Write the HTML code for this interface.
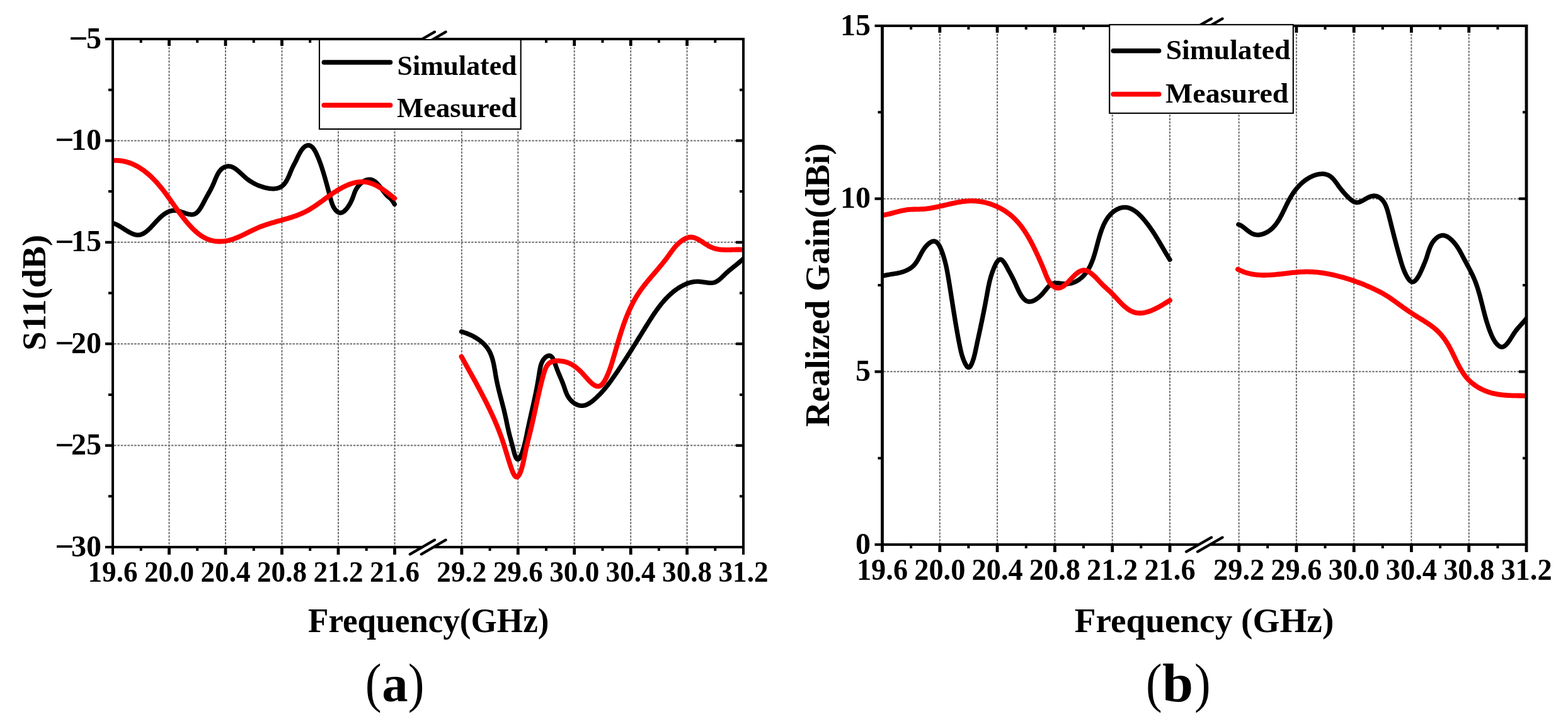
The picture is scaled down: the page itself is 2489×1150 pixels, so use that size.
<!DOCTYPE html><html><head><meta charset="utf-8"><style>html,body{margin:0;padding:0;background:#fff;width:2489px;height:1150px;overflow:hidden}svg{display:block}text{font-family:"Liberation Serif","Times New Roman",serif;fill:#000}</style></head><body>
<svg width="2489" height="1150" viewBox="0 0 2489 1150">
<rect width="2489" height="1150" fill="#fff"/>
<line x1="268.5" y1="64.0" x2="268.5" y2="867.0" stroke="#6e6e6e" stroke-width="2.0" stroke-dasharray="3.5 1.85"/>
<line x1="358.0" y1="64.0" x2="358.0" y2="867.0" stroke="#6e6e6e" stroke-width="2.0" stroke-dasharray="3.5 1.85"/>
<line x1="447.5" y1="64.0" x2="447.5" y2="867.0" stroke="#6e6e6e" stroke-width="2.0" stroke-dasharray="3.5 1.85"/>
<line x1="537.0" y1="64.0" x2="537.0" y2="867.0" stroke="#6e6e6e" stroke-width="2.0" stroke-dasharray="3.5 1.85"/>
<line x1="626.5" y1="64.0" x2="626.5" y2="867.0" stroke="#6e6e6e" stroke-width="2.0" stroke-dasharray="3.5 1.85"/>
<line x1="732.9" y1="64.0" x2="732.9" y2="867.0" stroke="#6e6e6e" stroke-width="2.0" stroke-dasharray="3.5 1.85"/>
<line x1="822.3" y1="64.0" x2="822.3" y2="867.0" stroke="#6e6e6e" stroke-width="2.0" stroke-dasharray="3.5 1.85"/>
<line x1="911.7" y1="64.0" x2="911.7" y2="867.0" stroke="#6e6e6e" stroke-width="2.0" stroke-dasharray="3.5 1.85"/>
<line x1="1001.2" y1="64.0" x2="1001.2" y2="867.0" stroke="#6e6e6e" stroke-width="2.0" stroke-dasharray="3.5 1.85"/>
<line x1="1090.6" y1="64.0" x2="1090.6" y2="867.0" stroke="#6e6e6e" stroke-width="2.0" stroke-dasharray="3.5 1.85"/>
<line x1="181.0" y1="223.4" x2="1178.0" y2="223.4" stroke="#6e6e6e" stroke-width="2" stroke-dasharray="3.5 1.85"/>
<line x1="181.0" y1="384.8" x2="1178.0" y2="384.8" stroke="#6e6e6e" stroke-width="2" stroke-dasharray="3.5 1.85"/>
<line x1="181.0" y1="546.2" x2="1178.0" y2="546.2" stroke="#6e6e6e" stroke-width="2" stroke-dasharray="3.5 1.85"/>
<line x1="181.0" y1="707.6" x2="1178.0" y2="707.6" stroke="#6e6e6e" stroke-width="2" stroke-dasharray="3.5 1.85"/>
<clipPath id="clip179"><rect x="179.0" y="0" width="1001.0" height="1150"/></clipPath>
<g clip-path="url(#clip179)">
<path d="M179.01,354.50 L180.63,354.93 L182.29,355.51 L183.98,356.23 L185.71,357.06 L187.47,357.99 L189.26,359.02 L191.08,360.10 L192.91,361.24 L194.76,362.42 L196.62,363.61 L198.50,364.81 L200.39,365.99 L202.28,367.14 L204.17,368.24 L206.05,369.27 L207.94,370.22 L209.81,371.07 L211.68,371.81 L213.52,372.42 L215.35,372.87 L217.16,373.16 L218.94,373.27 L220.70,373.18 L222.43,372.89 L224.13,372.42 L225.81,371.78 L227.46,370.97 L229.09,370.03 L230.70,368.95 L232.30,367.75 L233.88,366.45 L235.44,365.06 L236.99,363.59 L238.53,362.05 L240.07,360.46 L241.59,358.84 L243.11,357.18 L244.63,355.52 L246.14,353.85 L247.66,352.20 L249.17,350.57 L250.69,348.99 L252.21,347.45 L253.74,345.96 L255.28,344.53 L256.83,343.16 L258.40,341.87 L259.98,340.65 L261.57,339.53 L263.19,338.49 L264.83,337.55 L266.48,336.72 L268.17,335.99 L269.88,335.39 L271.62,334.91 L273.39,334.56 L275.19,334.35 L277.02,334.29 L278.90,334.37 L280.81,334.62 L282.76,335.02 L284.74,335.54 L286.74,336.16 L288.76,336.84 L290.78,337.55 L292.81,338.26 L294.83,338.94 L296.83,339.56 L298.81,340.09 L300.76,340.49 L302.68,340.73 L304.54,340.79 L306.36,340.62 L308.11,340.21 L309.79,339.51 L311.41,338.52 L312.94,337.25 L314.42,335.75 L315.83,334.06 L317.17,332.20 L318.47,330.22 L319.71,328.15 L320.91,326.03 L322.06,323.90 L323.17,321.79 L324.25,319.74 L325.30,317.77 L326.31,315.89 L327.30,314.08 L328.26,312.33 L329.20,310.64 L330.12,308.99 L331.01,307.38 L331.89,305.79 L332.75,304.21 L333.60,302.64 L334.43,301.07 L335.25,299.48 L336.06,297.87 L336.86,296.22 L337.66,294.54 L338.45,292.80 L339.24,291.00 L340.03,289.13 L340.83,287.19 L341.64,285.20 L342.48,283.19 L343.35,281.17 L344.28,279.16 L345.27,277.19 L346.32,275.28 L347.46,273.45 L348.69,271.72 L350.03,270.12 L351.48,268.66 L353.06,267.37 L354.75,266.26 L356.53,265.36 L358.36,264.67 L360.21,264.21 L362.04,264.01 L363.85,264.05 L365.64,264.32 L367.39,264.81 L369.13,265.48 L370.84,266.33 L372.53,267.33 L374.21,268.46 L375.87,269.71 L377.51,271.05 L379.15,272.46 L380.78,273.92 L382.40,275.42 L384.01,276.94 L385.62,278.44 L387.23,279.93 L388.84,281.37 L390.45,282.74 L392.07,284.05 L393.70,285.30 L395.33,286.49 L396.98,287.61 L398.64,288.68 L400.32,289.70 L402.01,290.66 L403.73,291.58 L405.47,292.44 L407.23,293.27 L409.02,294.05 L410.84,294.78 L412.69,295.49 L414.57,296.15 L416.49,296.78 L418.45,297.38 L420.43,297.93 L422.43,298.43 L424.45,298.87 L426.47,299.23 L428.49,299.52 L430.50,299.72 L432.50,299.82 L434.48,299.82 L436.43,299.70 L438.34,299.46 L440.20,299.09 L442.02,298.57 L443.77,297.90 L445.47,297.08 L447.09,296.08 L448.63,294.91 L450.08,293.56 L451.45,292.03 L452.73,290.34 L453.95,288.53 L455.09,286.61 L456.17,284.61 L457.19,282.56 L458.16,280.46 L459.09,278.36 L459.97,276.27 L460.82,274.22 L461.64,272.23 L462.44,270.32 L463.22,268.51 L463.99,266.83 L464.76,265.23 L465.52,263.69 L466.29,262.18 L467.07,260.68 L467.87,259.14 L468.69,257.54 L469.53,255.85 L470.41,254.04 L471.32,252.11 L472.28,250.09 L473.28,248.01 L474.32,245.92 L475.42,243.83 L476.56,241.78 L477.76,239.82 L479.02,237.96 L480.34,236.24 L481.72,234.70 L483.17,233.36 L484.69,232.27 L486.28,231.45 L487.93,230.94 L489.61,230.77 L491.24,230.98 L492.79,231.56 L494.27,232.48 L495.66,233.69 L496.99,235.16 L498.24,236.84 L499.42,238.69 L500.54,240.66 L501.59,242.71 L502.59,244.80 L503.53,246.89 L504.41,248.94 L505.25,250.94 L506.04,252.90 L506.79,254.82 L507.51,256.71 L508.20,258.59 L508.86,260.44 L509.50,262.29 L510.13,264.13 L510.74,265.96 L511.34,267.80 L511.93,269.64 L512.51,271.48 L513.09,273.32 L513.65,275.16 L514.21,277.01 L514.75,278.86 L515.30,280.72 L515.83,282.58 L516.36,284.45 L516.89,286.32 L517.42,288.21 L517.94,290.10 L518.46,292.00 L518.98,293.91 L519.50,295.84 L520.02,297.77 L520.54,299.72 L521.06,301.68 L521.59,303.65 L522.11,305.64 L522.65,307.65 L523.19,309.67 L523.73,311.71 L524.28,313.77 L524.84,315.84 L525.41,317.93 L526.01,320.03 L526.66,322.11 L527.37,324.17 L528.17,326.19 L529.08,328.16 L530.11,330.06 L531.28,331.87 L532.56,333.54 L533.95,335.03 L535.41,336.28 L536.94,337.23 L538.50,337.84 L540.08,338.07 L541.66,337.91 L543.25,337.39 L544.83,336.57 L546.38,335.45 L547.92,334.09 L549.41,332.51 L550.87,330.75 L552.27,328.83 L553.62,326.79 L554.90,324.68 L556.10,322.50 L557.22,320.32 L558.24,318.14 L559.17,316.02 L559.99,313.97 L560.71,312.01 L561.36,310.14 L561.99,308.32 L562.62,306.55 L563.29,304.82 L564.04,303.11 L564.88,301.40 L565.85,299.69 L566.94,298.00 L568.14,296.35 L569.43,294.74 L570.82,293.20 L572.29,291.74 L573.82,290.39 L575.43,289.15 L577.08,288.04 L578.78,287.09 L580.52,286.30 L582.28,285.70 L584.06,285.29 L585.85,285.11 L587.64,285.16 L589.41,285.46 L591.17,286.03 L592.90,286.87 L594.60,287.96 L596.27,289.25 L597.91,290.73 L599.52,292.36 L601.10,294.10 L602.64,295.93 L604.15,297.82 L605.63,299.73 L607.06,301.63 L608.46,303.50 L609.81,305.30 L611.13,307.00 L612.40,308.56 L613.63,309.97 L614.82,311.18 L615.96,312.19 L617.09,313.09 L618.22,313.98 L619.37,314.95 L620.57,316.11 L621.84,317.54 L623.21,319.35 L624.68,321.63 L626.30,324.49" fill="none" stroke="#000" stroke-width="7.3" stroke-linecap="round" stroke-linejoin="round"/>
<path d="M178.98,255.04 L181.11,254.92 L183.22,254.88 L185.31,254.90 L187.39,254.99 L189.44,255.14 L191.47,255.36 L193.48,255.64 L195.48,255.98 L197.45,256.38 L199.40,256.84 L201.34,257.35 L203.25,257.92 L205.14,258.54 L207.02,259.21 L208.87,259.93 L210.70,260.70 L212.51,261.51 L214.31,262.37 L216.08,263.28 L217.83,264.22 L219.56,265.21 L221.27,266.23 L222.96,267.29 L224.62,268.39 L226.27,269.52 L227.90,270.68 L229.50,271.87 L231.09,273.10 L232.65,274.35 L234.19,275.62 L235.71,276.93 L237.21,278.25 L238.69,279.60 L240.14,280.96 L241.58,282.34 L242.99,283.74 L244.38,285.16 L245.76,286.59 L247.11,288.04 L248.45,289.50 L249.77,290.98 L251.07,292.47 L252.36,293.98 L253.63,295.49 L254.89,297.02 L256.14,298.56 L257.37,300.11 L258.60,301.67 L259.81,303.24 L261.02,304.83 L262.22,306.41 L263.41,308.01 L264.59,309.62 L265.77,311.23 L266.95,312.85 L268.12,314.48 L269.29,316.11 L270.45,317.75 L271.62,319.39 L272.79,321.03 L273.95,322.68 L275.12,324.34 L276.29,325.99 L277.47,327.65 L278.65,329.30 L279.83,330.96 L281.02,332.62 L282.22,334.28 L283.42,335.94 L284.64,337.60 L285.86,339.25 L287.10,340.91 L288.34,342.56 L289.60,344.20 L290.88,345.85 L292.16,347.48 L293.46,349.12 L294.78,350.75 L296.12,352.37 L297.47,353.98 L298.84,355.57 L300.22,357.15 L301.63,358.71 L303.05,360.25 L304.49,361.77 L305.95,363.25 L307.44,364.71 L308.94,366.13 L310.46,367.51 L312.00,368.86 L313.56,370.16 L315.15,371.42 L316.76,372.63 L318.39,373.79 L320.04,374.90 L321.71,375.95 L323.41,376.94 L325.13,377.87 L326.88,378.73 L328.65,379.52 L330.45,380.24 L332.27,380.89 L334.12,381.47 L335.98,381.97 L337.87,382.40 L339.77,382.75 L341.69,383.04 L343.62,383.26 L345.56,383.41 L347.50,383.49 L349.45,383.50 L351.41,383.45 L353.36,383.34 L355.31,383.16 L357.26,382.91 L359.19,382.61 L361.12,382.24 L363.04,381.81 L364.95,381.33 L366.85,380.80 L368.74,380.22 L370.63,379.59 L372.50,378.92 L374.37,378.21 L376.24,377.46 L378.10,376.69 L379.95,375.88 L381.80,375.05 L383.65,374.19 L385.50,373.32 L387.35,372.43 L389.19,371.53 L391.03,370.62 L392.88,369.70 L394.72,368.78 L396.57,367.87 L398.42,366.95 L400.28,366.05 L402.13,365.16 L404.00,364.28 L405.86,363.42 L407.74,362.57 L409.62,361.76 L411.50,360.97 L413.40,360.21 L415.30,359.48 L417.21,358.77 L419.12,358.08 L421.04,357.41 L422.96,356.76 L424.89,356.14 L426.81,355.52 L428.75,354.93 L430.68,354.34 L432.62,353.77 L434.55,353.21 L436.49,352.65 L438.43,352.11 L440.36,351.56 L442.30,351.03 L444.23,350.49 L446.17,349.96 L448.09,349.42 L450.02,348.88 L451.94,348.34 L453.86,347.79 L455.77,347.24 L457.68,346.67 L459.58,346.10 L461.48,345.51 L463.36,344.91 L465.24,344.30 L467.12,343.67 L468.98,343.02 L470.83,342.35 L472.68,341.66 L474.51,340.94 L476.33,340.20 L478.14,339.44 L479.94,338.65 L481.73,337.82 L483.50,336.97 L485.26,336.09 L487.01,335.17 L488.74,334.22 L490.46,333.24 L492.17,332.23 L493.87,331.19 L495.55,330.13 L497.24,329.05 L498.91,327.94 L500.58,326.82 L502.24,325.68 L503.90,324.52 L505.55,323.35 L507.21,322.17 L508.86,320.98 L510.51,319.79 L512.16,318.58 L513.81,317.37 L515.47,316.16 L517.13,314.95 L518.80,313.74 L520.47,312.54 L522.15,311.34 L523.83,310.15 L525.52,308.96 L527.23,307.79 L528.94,306.63 L530.67,305.48 L532.41,304.36 L534.16,303.25 L535.93,302.16 L537.71,301.09 L539.51,300.05 L541.32,299.03 L543.15,298.05 L544.98,297.09 L546.83,296.18 L548.69,295.30 L550.56,294.47 L552.44,293.68 L554.32,292.94 L556.22,292.25 L558.11,291.61 L560.02,291.03 L561.92,290.51 L563.83,290.05 L565.74,289.65 L567.65,289.32 L569.56,289.06 L571.47,288.88 L573.38,288.77 L575.29,288.74 L577.19,288.80 L579.09,288.93 L580.98,289.16 L582.86,289.48 L584.74,289.88 L586.61,290.37 L588.47,290.94 L590.32,291.58 L592.17,292.30 L594.00,293.08 L595.82,293.93 L597.63,294.83 L599.43,295.79 L601.22,296.80 L603.00,297.86 L604.76,298.95 L606.51,300.09 L608.25,301.25 L609.97,302.45 L611.68,303.67 L613.37,304.91 L615.04,306.17 L616.70,307.44 L618.35,308.71 L619.97,309.99 L621.58,311.27 L623.17,312.54 L624.74,313.80 L626.29,315.05" fill="none" stroke="#f00" stroke-width="7.8" stroke-linecap="round" stroke-linejoin="round"/>
<path d="M732.49,526.72 L734.41,527.30 L736.33,527.92 L738.25,528.58 L740.16,529.27 L742.05,530.01 L743.94,530.78 L745.80,531.59 L747.65,532.44 L749.48,533.33 L751.29,534.26 L753.06,535.23 L754.81,536.23 L756.53,537.28 L758.22,538.37 L759.87,539.50 L761.48,540.67 L763.04,541.89 L764.57,543.14 L766.05,544.44 L767.48,545.78 L768.86,547.16 L770.18,548.58 L771.45,550.05 L772.65,551.56 L773.80,553.11 L774.88,554.71 L775.90,556.35 L776.84,558.04 L777.73,559.76 L778.55,561.53 L779.31,563.33 L780.01,565.17 L780.67,567.03 L781.28,568.93 L781.85,570.85 L782.38,572.79 L782.87,574.76 L783.33,576.74 L783.76,578.74 L784.17,580.76 L784.56,582.78 L784.93,584.81 L785.28,586.85 L785.63,588.89 L785.97,590.93 L786.31,592.97 L786.65,595.00 L786.99,597.02 L787.35,599.04 L787.71,601.04 L788.09,603.03 L788.49,605.00 L788.89,606.97 L789.31,608.92 L789.74,610.87 L790.18,612.80 L790.62,614.73 L791.08,616.65 L791.54,618.57 L792.01,620.48 L792.49,622.39 L792.98,624.29 L793.46,626.19 L793.96,628.10 L794.45,630.00 L794.95,631.90 L795.45,633.80 L795.95,635.71 L796.46,637.62 L796.96,639.54 L797.46,641.46 L797.96,643.39 L798.46,645.32 L798.95,647.27 L799.44,649.22 L799.93,651.18 L800.41,653.16 L800.88,655.15 L801.35,657.15 L801.81,659.16 L802.26,661.19 L802.70,663.23 L803.14,665.28 L803.57,667.33 L804.00,669.37 L804.42,671.40 L804.84,673.43 L805.26,675.43 L805.68,677.41 L806.10,679.37 L806.52,681.29 L806.95,683.18 L807.37,685.03 L807.80,686.84 L808.23,688.60 L808.68,690.35 L809.13,692.08 L809.58,693.82 L810.05,695.58 L810.54,697.37 L811.03,699.20 L811.55,701.10 L812.07,703.07 L812.62,705.13 L813.19,707.29 L813.78,709.56 L814.39,711.97 L815.02,714.49 L815.68,717.05 L816.37,719.57 L817.10,721.98 L817.85,724.19 L818.65,726.14 L819.48,727.73 L820.35,728.90 L821.27,729.56 L822.24,729.64 L823.25,729.12 L824.27,728.08 L825.29,726.63 L826.28,724.86 L827.22,722.87 L828.10,720.73 L828.92,718.49 L829.69,716.18 L830.41,713.85 L831.07,711.54 L831.70,709.28 L832.29,707.07 L832.84,704.91 L833.35,702.80 L833.84,700.73 L834.30,698.70 L834.74,696.70 L835.16,694.73 L835.57,692.79 L835.97,690.87 L836.35,688.96 L836.74,687.07 L837.12,685.18 L837.51,683.29 L837.90,681.41 L838.30,679.53 L838.70,677.65 L839.10,675.77 L839.51,673.88 L839.92,672.00 L840.33,670.12 L840.74,668.24 L841.16,666.36 L841.58,664.47 L842.00,662.59 L842.43,660.70 L842.85,658.81 L843.28,656.92 L843.71,655.02 L844.13,653.12 L844.56,651.22 L844.99,649.32 L845.42,647.41 L845.84,645.50 L846.27,643.58 L846.69,641.66 L847.12,639.73 L847.54,637.80 L847.96,635.86 L848.38,633.92 L848.80,631.97 L849.21,630.01 L849.62,628.05 L850.03,626.08 L850.43,624.10 L850.84,622.12 L851.23,620.12 L851.63,618.12 L852.01,616.11 L852.40,614.10 L852.78,612.07 L853.15,610.03 L853.52,607.99 L853.88,605.93 L854.24,603.87 L854.59,601.79 L854.93,599.71 L855.27,597.61 L855.60,595.50 L855.92,593.38 L856.25,591.26 L856.59,589.13 L856.95,587.02 L857.35,584.93 L857.80,582.87 L858.31,580.85 L858.90,578.88 L859.58,576.97 L860.37,575.12 L861.26,573.35 L862.29,571.66 L863.45,570.07 L864.75,568.59 L866.15,567.30 L867.63,566.22 L869.15,565.42 L870.69,564.96 L872.21,564.87 L873.69,565.22 L875.10,566.05 L876.40,567.42 L877.59,569.27 L878.68,571.49 L879.69,573.93 L880.63,576.47 L881.51,578.99 L882.35,581.36 L883.16,583.57 L883.93,585.65 L884.68,587.61 L885.42,589.48 L886.14,591.28 L886.85,593.03 L887.57,594.75 L888.29,596.46 L889.02,598.18 L889.76,599.91 L890.51,601.66 L891.26,603.44 L892.00,605.24 L892.74,607.06 L893.46,608.92 L894.18,610.81 L894.87,612.73 L895.54,614.69 L896.21,616.68 L896.89,618.68 L897.59,620.68 L898.32,622.66 L899.11,624.63 L899.97,626.56 L900.90,628.44 L901.93,630.27 L903.06,632.02 L904.30,633.69 L905.63,635.27 L907.04,636.76 L908.53,638.14 L910.09,639.41 L911.71,640.55 L913.39,641.56 L915.12,642.44 L916.89,643.16 L918.69,643.73 L920.51,644.13 L922.35,644.36 L924.20,644.41 L926.06,644.27 L927.91,643.92 L929.75,643.38 L931.57,642.67 L933.38,641.79 L935.17,640.78 L936.94,639.64 L938.68,638.41 L940.40,637.09 L942.08,635.72 L943.73,634.30 L945.34,632.86 L946.92,631.41 L948.46,629.95 L949.96,628.47 L951.44,626.99 L952.88,625.49 L954.29,623.99 L955.68,622.47 L957.03,620.95 L958.36,619.42 L959.67,617.88 L960.95,616.33 L962.22,614.77 L963.46,613.20 L964.69,611.63 L965.89,610.05 L967.09,608.46 L968.27,606.87 L969.43,605.28 L970.59,603.67 L971.73,602.07 L972.87,600.46 L974.00,598.84 L975.12,597.22 L976.25,595.60 L977.36,593.97 L978.48,592.34 L979.59,590.71 L980.70,589.08 L981.80,587.44 L982.90,585.80 L984.00,584.15 L985.10,582.51 L986.19,580.86 L987.28,579.20 L988.37,577.55 L989.45,575.89 L990.54,574.23 L991.62,572.56 L992.70,570.89 L993.77,569.22 L994.85,567.55 L995.92,565.88 L996.99,564.20 L998.06,562.52 L999.13,560.84 L1000.20,559.15 L1001.27,557.46 L1002.34,555.77 L1003.40,554.08 L1004.46,552.38 L1005.53,550.68 L1006.59,548.98 L1007.65,547.28 L1008.72,545.58 L1009.78,543.87 L1010.84,542.16 L1011.90,540.45 L1012.96,538.74 L1014.02,537.02 L1015.09,535.30 L1016.15,533.58 L1017.21,531.86 L1018.28,530.14 L1019.34,528.41 L1020.41,526.69 L1021.47,524.96 L1022.54,523.23 L1023.61,521.49 L1024.68,519.76 L1025.75,518.02 L1026.83,516.29 L1027.91,514.55 L1028.99,512.82 L1030.07,511.09 L1031.16,509.36 L1032.26,507.63 L1033.36,505.91 L1034.47,504.20 L1035.59,502.49 L1036.71,500.79 L1037.84,499.10 L1038.98,497.42 L1040.13,495.74 L1041.30,494.08 L1042.47,492.43 L1043.65,490.79 L1044.85,489.17 L1046.06,487.56 L1047.28,485.96 L1048.51,484.38 L1049.76,482.82 L1051.03,481.27 L1052.31,479.74 L1053.61,478.24 L1054.92,476.75 L1056.26,475.28 L1057.61,473.83 L1058.97,472.41 L1060.36,471.01 L1061.77,469.64 L1063.20,468.29 L1064.65,466.96 L1066.12,465.67 L1067.62,464.40 L1069.14,463.16 L1070.68,461.94 L1072.24,460.76 L1073.83,459.61 L1075.45,458.49 L1077.09,457.41 L1078.76,456.36 L1080.45,455.34 L1082.17,454.37 L1083.92,453.44 L1085.68,452.56 L1087.48,451.74 L1089.29,450.97 L1091.13,450.26 L1092.98,449.61 L1094.86,449.03 L1096.76,448.53 L1098.67,448.09 L1100.61,447.74 L1102.56,447.47 L1104.53,447.29 L1106.52,447.20 L1108.52,447.20 L1110.53,447.30 L1112.56,447.50 L1114.60,447.76 L1116.64,448.07 L1118.68,448.40 L1120.71,448.72 L1122.73,449.00 L1124.73,449.23 L1126.71,449.36 L1128.66,449.39 L1130.58,449.27 L1132.46,448.99 L1134.30,448.52 L1136.09,447.83 L1137.83,446.94 L1139.53,445.86 L1141.19,444.63 L1142.82,443.29 L1144.42,441.85 L1146.00,440.36 L1147.55,438.84 L1149.10,437.31 L1150.63,435.82 L1152.16,434.39 L1153.68,433.00 L1155.20,431.65 L1156.71,430.35 L1158.22,429.07 L1159.73,427.83 L1161.24,426.60 L1162.74,425.39 L1164.25,424.19 L1165.75,422.99 L1167.26,421.79 L1168.77,420.59 L1170.28,419.37 L1171.80,418.13 L1173.32,416.87 L1174.84,415.57 L1176.37,414.25 L1177.91,412.88 L1179.45,411.46 L1181.00,409.99" fill="none" stroke="#000" stroke-width="7.3" stroke-linecap="round" stroke-linejoin="round"/>
<path d="M732.52,566.50 L733.47,568.22 L734.42,569.94 L735.38,571.67 L736.34,573.39 L737.30,575.12 L738.26,576.85 L739.22,578.59 L740.19,580.33 L741.15,582.07 L742.12,583.81 L743.09,585.56 L744.06,587.30 L745.03,589.06 L746.01,590.81 L746.98,592.57 L747.95,594.32 L748.92,596.09 L749.89,597.85 L750.87,599.62 L751.84,601.38 L752.81,603.16 L753.77,604.93 L754.74,606.70 L755.71,608.48 L756.67,610.26 L757.63,612.04 L758.59,613.82 L759.55,615.61 L760.50,617.40 L761.46,619.19 L762.41,620.98 L763.35,622.77 L764.29,624.56 L765.23,626.36 L766.17,628.16 L767.10,629.96 L768.03,631.76 L768.95,633.56 L769.87,635.37 L770.78,637.17 L771.69,638.98 L772.59,640.79 L773.49,642.60 L774.38,644.41 L775.26,646.22 L776.14,648.04 L777.02,649.85 L777.88,651.67 L778.75,653.48 L779.60,655.30 L780.45,657.12 L781.28,658.94 L782.12,660.76 L782.94,662.58 L783.76,664.41 L784.56,666.23 L785.36,668.05 L786.16,669.88 L786.94,671.71 L787.71,673.53 L788.48,675.36 L789.23,677.19 L789.98,679.01 L790.71,680.84 L791.44,682.67 L792.16,684.50 L792.86,686.33 L793.56,688.16 L794.24,689.99 L794.92,691.82 L795.58,693.65 L796.23,695.48 L796.87,697.31 L797.50,699.14 L798.11,700.98 L798.72,702.81 L799.32,704.65 L799.91,706.50 L800.51,708.36 L801.09,710.23 L801.68,712.11 L802.27,714.01 L802.86,715.92 L803.45,717.86 L804.05,719.82 L804.66,721.80 L805.27,723.80 L805.90,725.84 L806.54,727.90 L807.19,730.00 L807.86,732.13 L808.54,734.29 L809.25,736.49 L809.97,738.74 L810.72,741.01 L811.49,743.30 L812.28,745.55 L813.11,747.74 L813.97,749.84 L814.86,751.81 L815.79,753.61 L816.74,755.16 L817.72,756.41 L818.72,757.28 L819.74,757.71 L820.76,757.64 L821.78,757.08 L822.80,756.09 L823.79,754.73 L824.74,753.05 L825.66,751.10 L826.51,748.94 L827.31,746.64 L828.05,744.23 L828.74,741.78 L829.38,739.34 L829.97,736.95 L830.51,734.66 L831.01,732.45 L831.47,730.32 L831.90,728.25 L832.32,726.25 L832.71,724.29 L833.09,722.39 L833.46,720.51 L833.83,718.67 L834.20,716.84 L834.58,715.01 L834.96,713.19 L835.37,711.34 L835.79,709.48 L836.22,707.59 L836.68,705.68 L837.14,703.76 L837.62,701.82 L838.11,699.87 L838.61,697.90 L839.11,695.93 L839.61,693.94 L840.11,691.96 L840.62,689.97 L841.12,687.98 L841.61,685.99 L842.10,684.01 L842.58,682.03 L843.06,680.06 L843.52,678.09 L843.98,676.12 L844.44,674.16 L844.89,672.20 L845.33,670.25 L845.77,668.29 L846.21,666.35 L846.64,664.40 L847.07,662.45 L847.50,660.51 L847.92,658.57 L848.34,656.63 L848.76,654.69 L849.18,652.76 L849.59,650.82 L850.01,648.88 L850.42,646.95 L850.84,645.02 L851.26,643.08 L851.67,641.15 L852.09,639.21 L852.51,637.28 L852.93,635.34 L853.36,633.40 L853.79,631.46 L854.22,629.52 L854.65,627.58 L855.09,625.64 L855.54,623.69 L855.98,621.74 L856.44,619.79 L856.90,617.83 L857.36,615.88 L857.83,613.91 L858.31,611.95 L858.80,609.98 L859.29,608.01 L859.80,606.03 L860.31,604.05 L860.83,602.06 L861.36,600.07 L861.89,598.07 L862.44,596.07 L863.00,594.06 L863.58,592.06 L864.19,590.07 L864.84,588.12 L865.55,586.22 L866.33,584.39 L867.20,582.65 L868.17,581.01 L869.25,579.49 L870.47,578.11 L871.82,576.89 L873.33,575.83 L875.01,574.96 L876.84,574.28 L878.81,573.78 L880.86,573.43 L882.98,573.22 L885.12,573.14 L887.26,573.18 L889.35,573.30 L891.40,573.52 L893.39,573.82 L895.34,574.20 L897.24,574.67 L899.10,575.21 L900.91,575.84 L902.69,576.54 L904.44,577.32 L906.15,578.17 L907.83,579.09 L909.48,580.09 L911.11,581.15 L912.71,582.27 L914.30,583.46 L915.86,584.72 L917.42,586.03 L918.95,587.41 L920.48,588.84 L922.00,590.33 L923.51,591.87 L925.02,593.46 L926.53,595.10 L928.04,596.79 L929.55,598.49 L931.06,600.20 L932.56,601.88 L934.07,603.53 L935.56,605.13 L937.06,606.64 L938.54,608.06 L940.02,609.37 L941.49,610.54 L942.95,611.56 L944.41,612.40 L945.85,613.05 L947.28,613.48 L948.70,613.69 L950.10,613.64 L951.49,613.33 L952.87,612.72 L954.23,611.80 L955.57,610.56 L956.89,609.04 L958.18,607.28 L959.44,605.32 L960.66,603.20 L961.83,600.97 L962.95,598.67 L964.01,596.34 L965.01,594.02 L965.94,591.76 L966.80,589.60 L967.59,587.54 L968.32,585.58 L968.99,583.69 L969.61,581.87 L970.20,580.09 L970.76,578.34 L971.30,576.61 L971.83,574.88 L972.35,573.13 L972.88,571.37 L973.41,569.57 L973.94,567.75 L974.48,565.91 L975.03,564.05 L975.57,562.17 L976.13,560.27 L976.68,558.35 L977.24,556.43 L977.80,554.49 L978.37,552.54 L978.94,550.59 L979.51,548.62 L980.09,546.66 L980.67,544.69 L981.25,542.73 L981.84,540.76 L982.43,538.80 L983.02,536.84 L983.62,534.89 L984.22,532.94 L984.83,531.00 L985.44,529.06 L986.05,527.12 L986.68,525.19 L987.31,523.27 L987.94,521.35 L988.59,519.44 L989.24,517.53 L989.90,515.63 L990.57,513.74 L991.25,511.85 L991.94,509.97 L992.64,508.10 L993.35,506.23 L994.08,504.37 L994.81,502.51 L995.56,500.67 L996.32,498.83 L997.09,497.00 L997.88,495.17 L998.68,493.36 L999.49,491.55 L1000.32,489.75 L1001.17,487.96 L1002.03,486.18 L1002.91,484.41 L1003.80,482.65 L1004.71,480.89 L1005.65,479.15 L1006.59,477.41 L1007.56,475.69 L1008.55,473.97 L1009.56,472.27 L1010.58,470.57 L1011.63,468.89 L1012.70,467.21 L1013.79,465.55 L1014.90,463.90 L1016.04,462.25 L1017.19,460.62 L1018.36,459.00 L1019.55,457.38 L1020.76,455.78 L1021.98,454.18 L1023.22,452.59 L1024.47,451.01 L1025.73,449.43 L1027.00,447.86 L1028.28,446.29 L1029.57,444.73 L1030.87,443.17 L1032.17,441.62 L1033.49,440.06 L1034.80,438.52 L1036.12,436.97 L1037.44,435.43 L1038.76,433.88 L1040.08,432.34 L1041.40,430.80 L1042.72,429.25 L1044.03,427.71 L1045.34,426.16 L1046.65,424.62 L1047.94,423.07 L1049.23,421.51 L1050.51,419.96 L1051.78,418.40 L1053.04,416.83 L1054.29,415.26 L1055.53,413.69 L1056.75,412.10 L1057.95,410.52 L1059.14,408.92 L1060.31,407.32 L1061.47,405.71 L1062.62,404.10 L1063.77,402.50 L1064.92,400.89 L1066.09,399.30 L1067.27,397.71 L1068.47,396.14 L1069.69,394.59 L1070.95,393.06 L1072.25,391.55 L1073.59,390.06 L1074.98,388.61 L1076.43,387.18 L1077.93,385.80 L1079.50,384.45 L1081.15,383.14 L1082.85,381.89 L1084.61,380.73 L1086.42,379.67 L1088.25,378.73 L1090.10,377.95 L1091.96,377.34 L1093.82,376.92 L1095.66,376.73 L1097.49,376.74 L1099.30,376.94 L1101.10,377.32 L1102.88,377.85 L1104.66,378.53 L1106.44,379.32 L1108.20,380.23 L1109.97,381.22 L1111.73,382.28 L1113.49,383.39 L1115.25,384.55 L1117.02,385.72 L1118.79,386.89 L1120.57,388.04 L1122.36,389.16 L1124.16,390.24 L1125.97,391.24 L1127.80,392.16 L1129.64,392.98 L1131.50,393.70 L1133.37,394.34 L1135.26,394.88 L1137.16,395.35 L1139.08,395.74 L1141.00,396.06 L1142.94,396.31 L1144.89,396.52 L1146.85,396.66 L1148.82,396.77 L1150.79,396.83 L1152.78,396.86 L1154.77,396.86 L1156.77,396.83 L1158.77,396.79 L1160.78,396.74 L1162.79,396.68 L1164.81,396.61 L1166.83,396.56 L1168.86,396.52 L1170.88,396.49 L1172.91,396.48 L1174.93,396.51 L1176.96,396.56 L1178.98,396.66 L1181.00,396.80" fill="none" stroke="#f00" stroke-width="7.8" stroke-linecap="round" stroke-linejoin="round"/>
</g>
<path d="M179.0,60.0 V881.0 M1180.0,60.0 V881.0" stroke="#000" stroke-width="4.0" fill="none"/>
<path d="M177.0,869.0 H670.5 M688.5,869.0 H1182.0 M177.0,62.0 H670.5 M688.5,62.0 H1182.0" stroke="#000" stroke-width="4" fill="none"/>
<path d="M268.5,869.0 V881.0 M268.5,62.0 V73.0 M358.0,869.0 V881.0 M358.0,62.0 V73.0 M447.5,869.0 V881.0 M447.5,62.0 V73.0 M537.0,869.0 V881.0 M537.0,62.0 V73.0 M626.5,869.0 V881.0 M626.5,62.0 V73.0 M732.9,869.0 V881.0 M732.9,62.0 V73.0 M822.3,869.0 V881.0 M822.3,62.0 V73.0 M911.7,869.0 V881.0 M911.7,62.0 V73.0 M1001.2,869.0 V881.0 M1001.2,62.0 V73.0 M1090.6,869.0 V881.0 M1090.6,62.0 V73.0" stroke="#000" stroke-width="4.8" fill="none"/>
<path d="M223.7,869.0 V875.0 M223.7,62.0 V68.0 M313.2,869.0 V875.0 M313.2,62.0 V68.0 M402.8,869.0 V875.0 M402.8,62.0 V68.0 M492.2,869.0 V875.0 M492.2,62.0 V68.0 M581.7,869.0 V875.0 M581.7,62.0 V68.0 M777.6,869.0 V875.0 M777.6,62.0 V68.0 M867.0,869.0 V875.0 M867.0,62.0 V68.0 M956.5,869.0 V875.0 M956.5,62.0 V68.0 M1045.9,869.0 V875.0 M1045.9,62.0 V68.0 M1135.3,869.0 V875.0 M1135.3,62.0 V68.0" stroke="#000" stroke-width="4" fill="none"/>
<path d="M167.0,62.0 H179.0 M1180.0,62.0 H1168.0 M167.0,223.4 H179.0 M1180.0,223.4 H1168.0 M167.0,384.8 H179.0 M1180.0,384.8 H1168.0 M167.0,546.2 H179.0 M1180.0,546.2 H1168.0 M167.0,707.6 H179.0 M1180.0,707.6 H1168.0 M167.0,869.0 H179.0 M1180.0,869.0 H1168.0" stroke="#000" stroke-width="4.2" fill="none"/>
<path d="M172.0,142.7 H179.0 M1180.0,142.7 H1174.0 M172.0,304.1 H179.0 M1180.0,304.1 H1174.0 M172.0,465.5 H179.0 M1180.0,465.5 H1174.0 M172.0,626.9 H179.0 M1180.0,626.9 H1174.0 M172.0,788.3 H179.0 M1180.0,788.3 H1174.0" stroke="#000" stroke-width="4" fill="none"/>
<path d="M650.8,880.4 L690.0,857.6 M668.8,880.4 L707.6,857.6 M650.8,73.4 L690.0,50.6 M668.8,73.4 L707.6,50.6" stroke="#000" stroke-width="4.2" fill="none" stroke-linecap="round"/>
<line x1="1491.8" y1="43.0" x2="1491.8" y2="863.0" stroke="#6e6e6e" stroke-width="2.0" stroke-dasharray="3.5 1.85"/>
<line x1="1583.1" y1="43.0" x2="1583.1" y2="863.0" stroke="#6e6e6e" stroke-width="2.0" stroke-dasharray="3.5 1.85"/>
<line x1="1674.4" y1="43.0" x2="1674.4" y2="863.0" stroke="#6e6e6e" stroke-width="2.0" stroke-dasharray="3.5 1.85"/>
<line x1="1765.7" y1="43.0" x2="1765.7" y2="863.0" stroke="#6e6e6e" stroke-width="2.0" stroke-dasharray="3.5 1.85"/>
<line x1="1857.0" y1="43.0" x2="1857.0" y2="863.0" stroke="#6e6e6e" stroke-width="2.0" stroke-dasharray="3.5 1.85"/>
<line x1="1966.6" y1="43.0" x2="1966.6" y2="863.0" stroke="#6e6e6e" stroke-width="2.0" stroke-dasharray="3.5 1.85"/>
<line x1="2057.9" y1="43.0" x2="2057.9" y2="863.0" stroke="#6e6e6e" stroke-width="2.0" stroke-dasharray="3.5 1.85"/>
<line x1="2149.2" y1="43.0" x2="2149.2" y2="863.0" stroke="#6e6e6e" stroke-width="2.0" stroke-dasharray="3.5 1.85"/>
<line x1="2240.4" y1="43.0" x2="2240.4" y2="863.0" stroke="#6e6e6e" stroke-width="2.0" stroke-dasharray="3.5 1.85"/>
<line x1="2331.7" y1="43.0" x2="2331.7" y2="863.0" stroke="#6e6e6e" stroke-width="2.0" stroke-dasharray="3.5 1.85"/>
<line x1="1402.5" y1="315.7" x2="2421.0" y2="315.7" stroke="#6e6e6e" stroke-width="2" stroke-dasharray="3.5 1.85"/>
<line x1="1402.5" y1="590.3" x2="2421.0" y2="590.3" stroke="#6e6e6e" stroke-width="2" stroke-dasharray="3.5 1.85"/>
<clipPath id="clip1400"><rect x="1400.5" y="0" width="1022.5" height="1150"/></clipPath>
<g clip-path="url(#clip1400)">
<path d="M1400.50,438.60 L1402.51,438.02 L1404.51,437.51 L1406.49,437.07 L1408.45,436.67 L1410.41,436.31 L1412.36,435.98 L1414.30,435.67 L1416.24,435.37 L1418.18,435.08 L1420.11,434.77 L1422.05,434.44 L1423.99,434.09 L1425.94,433.69 L1427.89,433.25 L1429.86,432.74 L1431.82,432.18 L1433.78,431.55 L1435.72,430.85 L1437.64,430.09 L1439.52,429.25 L1441.36,428.34 L1443.13,427.36 L1444.85,426.30 L1446.49,425.16 L1448.05,423.94 L1449.51,422.63 L1450.88,421.24 L1452.16,419.78 L1453.36,418.24 L1454.48,416.64 L1455.56,414.99 L1456.58,413.29 L1457.57,411.56 L1458.53,409.79 L1459.48,408.00 L1460.42,406.19 L1461.38,404.37 L1462.34,402.55 L1463.34,400.74 L1464.38,398.94 L1465.47,397.17 L1466.62,395.42 L1467.84,393.71 L1469.14,392.04 L1470.53,390.43 L1472.03,388.88 L1473.63,387.41 L1475.30,386.07 L1477.01,384.92 L1478.73,384.01 L1480.43,383.38 L1482.07,383.09 L1483.64,383.19 L1485.12,383.67 L1486.51,384.51 L1487.82,385.66 L1489.04,387.07 L1490.20,388.73 L1491.28,390.57 L1492.30,392.57 L1493.25,394.68 L1494.15,396.87 L1495.00,399.09 L1495.80,401.31 L1496.55,403.50 L1497.26,405.64 L1497.93,407.76 L1498.56,409.84 L1499.15,411.89 L1499.71,413.91 L1500.24,415.91 L1500.74,417.88 L1501.22,419.84 L1501.67,421.77 L1502.09,423.69 L1502.50,425.60 L1502.89,427.50 L1503.26,429.39 L1503.62,431.27 L1503.96,433.15 L1504.30,435.03 L1504.63,436.91 L1504.96,438.79 L1505.28,440.68 L1505.60,442.58 L1505.92,444.49 L1506.23,446.40 L1506.55,448.32 L1506.87,450.25 L1507.18,452.19 L1507.50,454.13 L1507.81,456.07 L1508.12,458.03 L1508.43,459.99 L1508.75,461.95 L1509.06,463.92 L1509.37,465.89 L1509.68,467.87 L1509.99,469.85 L1510.30,471.84 L1510.61,473.82 L1510.93,475.82 L1511.24,477.81 L1511.55,479.81 L1511.86,481.81 L1512.18,483.82 L1512.49,485.82 L1512.81,487.83 L1513.12,489.84 L1513.44,491.85 L1513.76,493.86 L1514.08,495.87 L1514.40,497.88 L1514.72,499.90 L1515.05,501.91 L1515.37,503.92 L1515.70,505.93 L1516.03,507.94 L1516.36,509.95 L1516.69,511.96 L1517.03,513.96 L1517.37,515.97 L1517.70,517.97 L1518.05,519.97 L1518.39,521.96 L1518.74,523.96 L1519.09,525.95 L1519.44,527.93 L1519.80,529.91 L1520.15,531.89 L1520.51,533.87 L1520.88,535.84 L1521.25,537.80 L1521.62,539.76 L1521.99,541.71 L1522.37,543.66 L1522.75,545.60 L1523.14,547.53 L1523.53,549.46 L1523.92,551.38 L1524.32,553.30 L1524.73,555.21 L1525.16,557.13 L1525.62,559.07 L1526.11,561.02 L1526.65,562.99 L1527.24,564.99 L1527.89,567.03 L1528.61,569.12 L1529.40,571.25 L1530.28,573.43 L1531.24,575.65 L1532.27,577.81 L1533.36,579.79 L1534.48,581.48 L1535.62,582.77 L1536.76,583.56 L1537.89,583.72 L1538.98,583.22 L1540.04,582.16 L1541.05,580.64 L1542.01,578.78 L1542.92,576.68 L1543.77,574.46 L1544.54,572.22 L1545.25,570.01 L1545.91,567.83 L1546.50,565.67 L1547.05,563.54 L1547.56,561.43 L1548.04,559.35 L1548.49,557.28 L1548.92,555.24 L1549.34,553.23 L1549.75,551.23 L1550.16,549.25 L1550.57,547.29 L1550.98,545.34 L1551.39,543.41 L1551.80,541.49 L1552.21,539.58 L1552.62,537.67 L1553.04,535.77 L1553.45,533.87 L1553.86,531.97 L1554.28,530.07 L1554.69,528.17 L1555.11,526.26 L1555.52,524.34 L1555.93,522.41 L1556.35,520.48 L1556.76,518.53 L1557.17,516.57 L1557.59,514.60 L1558.00,512.63 L1558.41,510.65 L1558.82,508.66 L1559.23,506.67 L1559.64,504.68 L1560.04,502.68 L1560.45,500.68 L1560.85,498.68 L1561.25,496.68 L1561.64,494.68 L1562.04,492.68 L1562.43,490.68 L1562.82,488.68 L1563.21,486.69 L1563.59,484.70 L1563.97,482.71 L1564.34,480.74 L1564.71,478.77 L1565.08,476.80 L1565.45,474.85 L1565.81,472.90 L1566.16,470.97 L1566.51,469.04 L1566.86,467.13 L1567.20,465.23 L1567.54,463.34 L1567.88,461.45 L1568.23,459.57 L1568.59,457.68 L1568.95,455.80 L1569.34,453.91 L1569.73,452.01 L1570.15,450.11 L1570.59,448.19 L1571.06,446.25 L1571.56,444.30 L1572.09,442.33 L1572.66,440.33 L1573.26,438.31 L1573.91,436.25 L1574.60,434.17 L1575.33,432.05 L1576.12,429.89 L1576.96,427.70 L1577.86,425.46 L1578.82,423.21 L1579.82,421.01 L1580.88,418.91 L1581.98,416.99 L1583.11,415.30 L1584.29,413.89 L1585.49,412.84 L1586.73,412.19 L1587.98,412.02 L1589.26,412.35 L1590.55,413.15 L1591.84,414.33 L1593.12,415.84 L1594.40,417.60 L1595.65,419.56 L1596.88,421.64 L1598.07,423.78 L1599.22,425.91 L1600.32,427.97 L1601.36,429.92 L1602.36,431.77 L1603.31,433.54 L1604.23,435.25 L1605.11,436.91 L1605.97,438.54 L1606.81,440.16 L1607.64,441.77 L1608.46,443.41 L1609.28,445.07 L1610.11,446.79 L1610.95,448.58 L1611.80,450.45 L1612.68,452.41 L1613.58,454.44 L1614.50,456.52 L1615.46,458.63 L1616.45,460.74 L1617.47,462.84 L1618.52,464.91 L1619.62,466.91 L1620.76,468.84 L1621.94,470.67 L1623.16,472.38 L1624.44,473.95 L1625.76,475.35 L1627.14,476.57 L1628.57,477.58 L1630.06,478.37 L1631.61,478.90 L1633.22,479.17 L1634.88,479.19 L1636.59,478.97 L1638.33,478.52 L1640.10,477.87 L1641.88,477.04 L1643.67,476.04 L1645.45,474.88 L1647.22,473.59 L1648.97,472.18 L1650.69,470.68 L1652.36,469.09 L1653.98,467.43 L1655.54,465.73 L1657.03,463.99 L1658.46,462.25 L1659.84,460.52 L1661.19,458.84 L1662.52,457.22 L1663.86,455.69 L1665.22,454.29 L1666.63,453.02 L1668.09,451.93 L1669.63,451.03 L1671.27,450.36 L1673.01,449.91 L1674.84,449.67 L1676.76,449.60 L1678.75,449.66 L1680.79,449.82 L1682.87,450.05 L1684.97,450.30 L1687.09,450.54 L1689.21,450.74 L1691.32,450.86 L1693.39,450.87 L1695.43,450.75 L1697.44,450.50 L1699.40,450.14 L1701.33,449.66 L1703.21,449.08 L1705.05,448.39 L1706.84,447.61 L1708.59,446.74 L1710.29,445.79 L1711.94,444.75 L1713.54,443.64 L1715.08,442.46 L1716.58,441.22 L1718.01,439.92 L1719.40,438.57 L1720.72,437.17 L1721.98,435.73 L1723.19,434.25 L1724.35,432.73 L1725.45,431.16 L1726.51,429.57 L1727.52,427.93 L1728.48,426.27 L1729.41,424.57 L1730.29,422.84 L1731.13,421.08 L1731.94,419.29 L1732.72,417.48 L1733.46,415.64 L1734.17,413.78 L1734.86,411.90 L1735.52,410.00 L1736.16,408.08 L1736.78,406.14 L1737.38,404.19 L1737.97,402.22 L1738.54,400.24 L1739.10,398.26 L1739.65,396.26 L1740.20,394.26 L1740.74,392.25 L1741.27,390.23 L1741.81,388.22 L1742.35,386.20 L1742.89,384.18 L1743.43,382.16 L1743.99,380.15 L1744.56,378.15 L1745.13,376.15 L1745.73,374.15 L1746.34,372.17 L1746.97,370.20 L1747.62,368.24 L1748.30,366.30 L1749.00,364.37 L1749.73,362.46 L1750.49,360.57 L1751.28,358.70 L1752.11,356.85 L1752.97,355.03 L1753.87,353.24 L1754.82,351.48 L1755.82,349.75 L1756.86,348.07 L1757.96,346.42 L1759.11,344.82 L1760.32,343.27 L1761.59,341.77 L1762.92,340.33 L1764.32,338.94 L1765.78,337.61 L1767.32,336.35 L1768.94,335.16 L1770.63,334.03 L1772.39,333.00 L1774.20,332.06 L1776.05,331.23 L1777.93,330.53 L1779.83,329.97 L1781.73,329.57 L1783.62,329.34 L1785.50,329.28 L1787.36,329.39 L1789.20,329.65 L1791.02,330.05 L1792.83,330.60 L1794.61,331.28 L1796.38,332.09 L1798.12,333.01 L1799.84,334.04 L1801.54,335.17 L1803.21,336.39 L1804.86,337.70 L1806.48,339.08 L1808.08,340.53 L1809.65,342.04 L1811.19,343.61 L1812.70,345.22 L1814.18,346.87 L1815.63,348.54 L1817.05,350.24 L1818.43,351.95 L1819.79,353.66 L1821.11,355.37 L1822.39,357.07 L1823.64,358.76 L1824.85,360.43 L1826.04,362.09 L1827.20,363.74 L1828.33,365.38 L1829.43,367.01 L1830.51,368.64 L1831.58,370.26 L1832.62,371.87 L1833.64,373.48 L1834.65,375.09 L1835.65,376.70 L1836.64,378.31 L1837.61,379.92 L1838.58,381.53 L1839.55,383.15 L1840.51,384.77 L1841.46,386.40 L1842.42,388.04 L1843.39,389.68 L1844.35,391.34 L1845.33,393.01 L1846.31,394.69 L1847.30,396.39 L1848.30,398.10 L1849.32,399.83 L1850.35,401.58 L1851.40,403.34 L1852.48,405.13 L1853.57,406.94 L1854.69,408.77 L1855.83,410.62 L1857.00,412.51" fill="none" stroke="#000" stroke-width="7.3" stroke-linecap="round" stroke-linejoin="round"/>
<path d="M1400.50,341.90 L1402.44,341.62 L1404.38,341.29 L1406.33,340.91 L1408.29,340.50 L1410.24,340.06 L1412.20,339.59 L1414.16,339.10 L1416.13,338.60 L1418.10,338.08 L1420.07,337.56 L1422.05,337.03 L1424.03,336.52 L1426.00,336.01 L1427.99,335.52 L1429.97,335.05 L1431.95,334.61 L1433.94,334.20 L1435.93,333.83 L1437.91,333.50 L1439.90,333.22 L1441.89,332.99 L1443.88,332.81 L1445.87,332.68 L1447.86,332.58 L1449.85,332.50 L1451.84,332.45 L1453.83,332.41 L1455.82,332.37 L1457.81,332.33 L1459.80,332.28 L1461.79,332.22 L1463.78,332.12 L1465.77,332.00 L1467.76,331.83 L1469.75,331.64 L1471.74,331.40 L1473.73,331.14 L1475.72,330.85 L1477.71,330.54 L1479.70,330.19 L1481.69,329.83 L1483.68,329.45 L1485.68,329.04 L1487.67,328.63 L1489.66,328.20 L1491.65,327.75 L1493.64,327.30 L1495.63,326.84 L1497.62,326.38 L1499.61,325.91 L1501.60,325.44 L1503.59,324.97 L1505.58,324.51 L1507.57,324.05 L1509.56,323.60 L1511.55,323.16 L1513.54,322.73 L1515.53,322.32 L1517.52,321.92 L1519.51,321.54 L1521.50,321.18 L1523.49,320.84 L1525.48,320.53 L1527.47,320.25 L1529.46,319.99 L1531.45,319.76 L1533.44,319.57 L1535.44,319.42 L1537.43,319.30 L1539.42,319.22 L1541.41,319.18 L1543.40,319.19 L1545.39,319.24 L1547.38,319.33 L1549.36,319.46 L1551.34,319.64 L1553.32,319.85 L1555.30,320.11 L1557.26,320.41 L1559.23,320.75 L1561.18,321.12 L1563.13,321.54 L1565.06,322.00 L1566.99,322.50 L1568.91,323.04 L1570.82,323.61 L1572.72,324.22 L1574.60,324.88 L1576.47,325.57 L1578.33,326.29 L1580.18,327.06 L1582.00,327.86 L1583.81,328.70 L1585.61,329.58 L1587.39,330.49 L1589.15,331.44 L1590.89,332.42 L1592.61,333.44 L1594.31,334.49 L1595.99,335.58 L1597.64,336.70 L1599.28,337.86 L1600.89,339.05 L1602.48,340.27 L1604.04,341.53 L1605.57,342.82 L1607.08,344.14 L1608.56,345.50 L1610.02,346.88 L1611.45,348.30 L1612.85,349.75 L1614.22,351.22 L1615.57,352.73 L1616.89,354.26 L1618.19,355.81 L1619.46,357.39 L1620.71,358.99 L1621.94,360.61 L1623.14,362.26 L1624.32,363.92 L1625.48,365.60 L1626.62,367.29 L1627.74,369.01 L1628.84,370.73 L1629.92,372.47 L1630.98,374.22 L1632.02,375.98 L1633.05,377.75 L1634.06,379.53 L1635.05,381.32 L1636.02,383.11 L1636.98,384.91 L1637.93,386.71 L1638.85,388.52 L1639.77,390.32 L1640.67,392.13 L1641.56,393.93 L1642.44,395.73 L1643.30,397.53 L1644.16,399.33 L1645.00,401.11 L1645.83,402.89 L1646.65,404.67 L1647.47,406.43 L1648.27,408.19 L1649.07,409.95 L1649.86,411.71 L1650.65,413.47 L1651.44,415.24 L1652.21,417.02 L1652.99,418.81 L1653.77,420.62 L1654.54,422.45 L1655.32,424.30 L1656.10,426.18 L1656.88,428.09 L1657.66,430.03 L1658.45,432.00 L1659.25,434.02 L1660.05,436.06 L1660.87,438.13 L1661.73,440.18 L1662.64,442.22 L1663.60,444.20 L1664.64,446.12 L1665.76,447.96 L1666.97,449.68 L1668.28,451.29 L1669.68,452.74 L1671.14,454.04 L1672.66,455.16 L1674.23,456.08 L1675.82,456.80 L1677.43,457.28 L1679.04,457.52 L1680.64,457.50 L1682.23,457.24 L1683.81,456.75 L1685.38,456.05 L1686.94,455.17 L1688.50,454.12 L1690.05,452.93 L1691.60,451.62 L1693.14,450.20 L1694.69,448.69 L1696.24,447.12 L1697.79,445.50 L1699.34,443.86 L1700.90,442.21 L1702.46,440.57 L1704.04,438.97 L1705.62,437.43 L1707.21,435.96 L1708.82,434.58 L1710.43,433.32 L1712.07,432.19 L1713.72,431.21 L1715.39,430.41 L1717.07,429.80 L1718.78,429.41 L1720.51,429.25 L1722.26,429.35 L1724.04,429.72 L1725.84,430.36 L1727.65,431.25 L1729.46,432.34 L1731.26,433.61 L1733.05,435.01 L1734.80,436.50 L1736.52,438.06 L1738.20,439.68 L1739.85,441.33 L1741.47,443.00 L1743.05,444.67 L1744.59,446.33 L1746.11,447.95 L1747.59,449.53 L1749.04,451.04 L1750.47,452.48 L1751.86,453.84 L1753.24,455.15 L1754.59,456.41 L1755.93,457.63 L1757.27,458.84 L1758.59,460.04 L1759.92,461.24 L1761.25,462.47 L1762.59,463.72 L1763.94,465.02 L1765.31,466.38 L1766.69,467.80 L1768.10,469.28 L1769.53,470.81 L1770.97,472.37 L1772.44,473.96 L1773.93,475.57 L1775.43,477.18 L1776.96,478.80 L1778.50,480.40 L1780.07,481.99 L1781.65,483.55 L1783.25,485.06 L1784.88,486.54 L1786.52,487.95 L1788.19,489.30 L1789.87,490.57 L1791.57,491.75 L1793.29,492.84 L1795.03,493.83 L1796.80,494.70 L1798.58,495.45 L1800.38,496.07 L1802.20,496.56 L1804.03,496.93 L1805.88,497.18 L1807.74,497.31 L1809.62,497.34 L1811.50,497.27 L1813.39,497.10 L1815.29,496.83 L1817.20,496.48 L1819.10,496.05 L1821.01,495.54 L1822.92,494.96 L1824.83,494.32 L1826.73,493.61 L1828.63,492.84 L1830.52,492.03 L1832.40,491.17 L1834.28,490.26 L1836.14,489.33 L1837.99,488.36 L1839.82,487.36 L1841.64,486.35 L1843.44,485.32 L1845.22,484.28 L1846.98,483.24 L1848.71,482.20 L1850.42,481.16 L1852.11,480.14 L1853.76,479.13 L1855.39,478.14 L1856.98,477.18" fill="none" stroke="#f00" stroke-width="7.8" stroke-linecap="round" stroke-linejoin="round"/>
<path d="M1965.80,356.50 L1967.43,357.02 L1969.08,357.78 L1970.74,358.74 L1972.41,359.87 L1974.10,361.14 L1975.81,362.49 L1977.54,363.90 L1979.29,365.33 L1981.07,366.73 L1982.87,368.08 L1984.70,369.33 L1986.56,370.44 L1988.45,371.39 L1990.36,372.12 L1992.31,372.64 L1994.27,372.94 L1996.25,373.06 L1998.22,373.00 L2000.19,372.77 L2002.14,372.39 L2004.06,371.88 L2005.94,371.25 L2007.79,370.50 L2009.57,369.67 L2011.30,368.75 L2012.96,367.76 L2014.55,366.71 L2016.08,365.58 L2017.56,364.40 L2018.98,363.16 L2020.34,361.86 L2021.66,360.51 L2022.93,359.10 L2024.15,357.64 L2025.33,356.14 L2026.48,354.60 L2027.58,353.01 L2028.66,351.39 L2029.71,349.73 L2030.72,348.04 L2031.72,346.31 L2032.69,344.56 L2033.64,342.78 L2034.58,340.99 L2035.51,339.17 L2036.42,337.33 L2037.33,335.48 L2038.24,333.62 L2039.14,331.75 L2040.04,329.87 L2040.95,327.99 L2041.86,326.11 L2042.79,324.23 L2043.73,322.35 L2044.68,320.48 L2045.65,318.63 L2046.65,316.78 L2047.67,314.95 L2048.71,313.13 L2049.79,311.34 L2050.89,309.56 L2052.03,307.82 L2053.20,306.09 L2054.39,304.40 L2055.62,302.74 L2056.88,301.10 L2058.18,299.50 L2059.50,297.94 L2060.85,296.41 L2062.24,294.92 L2063.66,293.47 L2065.10,292.06 L2066.58,290.69 L2068.10,289.38 L2069.64,288.11 L2071.22,286.88 L2072.82,285.71 L2074.46,284.60 L2076.14,283.54 L2077.84,282.53 L2079.58,281.58 L2081.35,280.70 L2083.15,279.87 L2084.98,279.11 L2086.84,278.42 L2088.73,277.80 L2090.64,277.27 L2092.55,276.84 L2094.47,276.50 L2096.40,276.28 L2098.31,276.19 L2100.21,276.22 L2102.09,276.38 L2103.94,276.70 L2105.76,277.17 L2107.54,277.81 L2109.28,278.62 L2110.97,279.61 L2112.60,280.79 L2114.17,282.14 L2115.69,283.65 L2117.17,285.27 L2118.60,286.99 L2119.99,288.78 L2121.35,290.61 L2122.68,292.45 L2123.99,294.28 L2125.27,296.08 L2126.55,297.81 L2127.81,299.47 L2129.06,301.07 L2130.32,302.62 L2131.59,304.14 L2132.87,305.62 L2134.16,307.07 L2135.49,308.52 L2136.84,309.96 L2138.23,311.40 L2139.67,312.86 L2141.15,314.33 L2142.67,315.77 L2144.24,317.15 L2145.84,318.41 L2147.48,319.53 L2149.16,320.45 L2150.86,321.14 L2152.60,321.56 L2154.35,321.66 L2156.13,321.45 L2157.93,320.97 L2159.75,320.27 L2161.58,319.40 L2163.44,318.41 L2165.30,317.34 L2167.18,316.24 L2169.07,315.16 L2170.97,314.14 L2172.87,313.20 L2174.77,312.38 L2176.67,311.73 L2178.56,311.26 L2180.44,311.02 L2182.31,311.04 L2184.16,311.33 L2185.96,311.86 L2187.72,312.60 L2189.41,313.54 L2191.01,314.66 L2192.52,315.92 L2193.92,317.31 L2195.20,318.81 L2196.37,320.41 L2197.44,322.09 L2198.42,323.86 L2199.31,325.69 L2200.13,327.59 L2200.88,329.53 L2201.57,331.52 L2202.21,333.53 L2202.81,335.57 L2203.38,337.62 L2203.92,339.67 L2204.44,341.72 L2204.96,343.74 L2205.47,345.76 L2205.98,347.75 L2206.48,349.73 L2206.97,351.70 L2207.47,353.65 L2207.96,355.60 L2208.44,357.53 L2208.93,359.45 L2209.41,361.37 L2209.89,363.28 L2210.37,365.18 L2210.85,367.07 L2211.33,368.96 L2211.82,370.85 L2212.30,372.73 L2212.78,374.62 L2213.26,376.50 L2213.75,378.38 L2214.24,380.26 L2214.73,382.15 L2215.23,384.04 L2215.72,385.93 L2216.23,387.82 L2216.73,389.73 L2217.24,391.64 L2217.76,393.55 L2218.28,395.48 L2218.81,397.41 L2219.34,399.36 L2219.88,401.31 L2220.43,403.28 L2220.99,405.26 L2221.55,407.26 L2222.12,409.27 L2222.70,411.30 L2223.29,413.34 L2223.89,415.40 L2224.51,417.46 L2225.14,419.53 L2225.81,421.59 L2226.49,423.65 L2227.21,425.70 L2227.96,427.73 L2228.75,429.74 L2229.58,431.72 L2230.45,433.68 L2231.37,435.61 L2232.34,437.49 L2233.36,439.33 L2234.45,441.13 L2235.59,442.86 L2236.78,444.45 L2238.03,445.82 L2239.31,446.91 L2240.62,447.63 L2241.96,447.91 L2243.32,447.72 L2244.68,447.11 L2246.04,446.13 L2247.38,444.83 L2248.70,443.27 L2249.97,441.50 L2251.20,439.57 L2252.39,437.51 L2253.52,435.36 L2254.61,433.15 L2255.65,430.92 L2256.65,428.70 L2257.60,426.53 L2258.50,424.44 L2259.36,422.45 L2260.17,420.55 L2260.94,418.71 L2261.67,416.92 L2262.37,415.17 L2263.04,413.42 L2263.69,411.66 L2264.31,409.88 L2264.91,408.06 L2265.50,406.20 L2266.08,404.30 L2266.67,402.39 L2267.28,400.45 L2267.92,398.52 L2268.58,396.58 L2269.30,394.65 L2270.06,392.74 L2270.88,390.85 L2271.78,388.99 L2272.76,387.17 L2273.82,385.40 L2274.98,383.69 L2276.25,382.04 L2277.63,380.47 L2279.12,378.99 L2280.68,377.65 L2282.33,376.47 L2284.03,375.47 L2285.79,374.68 L2287.58,374.14 L2289.39,373.86 L2291.21,373.88 L2293.04,374.19 L2294.85,374.76 L2296.64,375.56 L2298.41,376.55 L2300.14,377.72 L2301.82,379.02 L2303.44,380.43 L2305.00,381.91 L2306.48,383.44 L2307.89,384.99 L2309.22,386.57 L2310.49,388.17 L2311.69,389.80 L2312.84,391.44 L2313.95,393.11 L2315.01,394.79 L2316.03,396.49 L2317.02,398.20 L2317.98,399.92 L2318.93,401.66 L2319.86,403.41 L2320.78,405.16 L2321.71,406.92 L2322.63,408.69 L2323.56,410.47 L2324.51,412.24 L2325.46,414.02 L2326.43,415.81 L2327.39,417.60 L2328.36,419.39 L2329.33,421.18 L2330.30,422.98 L2331.27,424.78 L2332.22,426.59 L2333.17,428.40 L2334.11,430.21 L2335.03,432.03 L2335.94,433.86 L2336.82,435.68 L2337.69,437.51 L2338.54,439.35 L2339.35,441.19 L2340.15,443.03 L2340.91,444.88 L2341.65,446.73 L2342.36,448.59 L2343.05,450.45 L2343.72,452.31 L2344.37,454.18 L2345.00,456.05 L2345.61,457.92 L2346.20,459.80 L2346.77,461.69 L2347.34,463.57 L2347.88,465.47 L2348.42,467.36 L2348.94,469.26 L2349.46,471.16 L2349.96,473.06 L2350.46,474.97 L2350.96,476.88 L2351.44,478.80 L2351.93,480.72 L2352.41,482.64 L2352.89,484.56 L2353.37,486.49 L2353.85,488.42 L2354.34,490.36 L2354.83,492.29 L2355.32,494.23 L2355.82,496.18 L2356.33,498.12 L2356.85,500.07 L2357.37,502.02 L2357.91,503.97 L2358.46,505.93 L2359.02,507.89 L2359.60,509.85 L2360.20,511.81 L2360.81,513.78 L2361.44,515.75 L2362.09,517.72 L2362.76,519.69 L2363.46,521.67 L2364.18,523.65 L2364.92,525.63 L2365.69,527.61 L2366.49,529.59 L2367.31,531.58 L2368.17,533.56 L2369.08,535.52 L2370.04,537.46 L2371.07,539.36 L2372.16,541.21 L2373.34,543.01 L2374.61,544.75 L2375.95,546.37 L2377.36,547.83 L2378.82,549.10 L2380.30,550.11 L2381.81,550.82 L2383.31,551.19 L2384.80,551.17 L2386.28,550.78 L2387.73,550.07 L2389.18,549.05 L2390.60,547.78 L2392.01,546.28 L2393.40,544.59 L2394.78,542.74 L2396.14,540.79 L2397.48,538.75 L2398.81,536.66 L2400.11,534.57 L2401.40,532.51 L2402.68,530.50 L2403.93,528.60 L2405.17,526.82 L2406.40,525.16 L2407.61,523.59 L2408.82,522.10 L2410.02,520.68 L2411.23,519.31 L2412.43,517.97 L2413.65,516.64 L2414.87,515.30 L2416.11,513.95 L2417.36,512.56 L2418.64,511.12 L2419.93,509.61 L2421.26,508.01 L2422.61,506.31 L2424.00,504.49" fill="none" stroke="#000" stroke-width="7.3" stroke-linecap="round" stroke-linejoin="round"/>
<path d="M1965.00,427.77 L1966.91,428.73 L1968.82,429.63 L1970.74,430.47 L1972.66,431.25 L1974.59,431.98 L1976.53,432.64 L1978.47,433.25 L1980.42,433.81 L1982.37,434.32 L1984.33,434.77 L1986.30,435.18 L1988.26,435.54 L1990.24,435.86 L1992.21,436.14 L1994.20,436.37 L1996.18,436.56 L1998.17,436.72 L2000.16,436.84 L2002.16,436.93 L2004.16,436.98 L2006.16,437.00 L2008.17,437.00 L2010.18,436.96 L2012.19,436.91 L2014.20,436.82 L2016.21,436.72 L2018.23,436.59 L2020.25,436.45 L2022.27,436.29 L2024.29,436.11 L2026.31,435.92 L2028.34,435.71 L2030.36,435.50 L2032.38,435.28 L2034.41,435.05 L2036.43,434.82 L2038.46,434.58 L2040.48,434.34 L2042.51,434.10 L2044.53,433.87 L2046.55,433.63 L2048.57,433.41 L2050.60,433.18 L2052.61,432.97 L2054.63,432.77 L2056.65,432.58 L2058.66,432.40 L2060.67,432.24 L2062.68,432.10 L2064.69,431.97 L2066.69,431.87 L2068.69,431.79 L2070.69,431.73 L2072.69,431.69 L2074.68,431.69 L2076.66,431.70 L2078.65,431.74 L2080.63,431.81 L2082.61,431.89 L2084.59,432.00 L2086.56,432.14 L2088.54,432.29 L2090.51,432.47 L2092.47,432.67 L2094.44,432.88 L2096.40,433.12 L2098.36,433.38 L2100.32,433.66 L2102.28,433.96 L2104.23,434.28 L2106.19,434.62 L2108.14,434.97 L2110.09,435.35 L2112.04,435.74 L2113.99,436.15 L2115.94,436.57 L2117.88,437.01 L2119.83,437.47 L2121.77,437.94 L2123.72,438.43 L2125.66,438.94 L2127.60,439.45 L2129.54,439.99 L2131.49,440.53 L2133.43,441.09 L2135.37,441.66 L2137.31,442.25 L2139.25,442.85 L2141.19,443.46 L2143.12,444.08 L2145.05,444.72 L2146.99,445.36 L2148.91,446.02 L2150.84,446.70 L2152.76,447.38 L2154.68,448.07 L2156.59,448.78 L2158.49,449.50 L2160.40,450.23 L2162.29,450.97 L2164.18,451.72 L2166.07,452.48 L2167.94,453.25 L2169.81,454.03 L2171.67,454.83 L2173.53,455.63 L2175.37,456.44 L2177.21,457.26 L2179.04,458.10 L2180.86,458.94 L2182.66,459.79 L2184.46,460.65 L2186.25,461.53 L2188.03,462.42 L2189.79,463.33 L2191.55,464.25 L2193.29,465.19 L2195.02,466.14 L2196.73,467.12 L2198.44,468.12 L2200.13,469.14 L2201.81,470.19 L2203.47,471.26 L2205.12,472.34 L2206.76,473.45 L2208.40,474.57 L2210.03,475.71 L2211.65,476.86 L2213.26,478.02 L2214.88,479.19 L2216.49,480.36 L2218.10,481.54 L2219.71,482.73 L2221.33,483.91 L2222.94,485.09 L2224.57,486.27 L2226.20,487.44 L2227.83,488.61 L2229.48,489.78 L2231.12,490.93 L2232.78,492.08 L2234.44,493.23 L2236.11,494.36 L2237.78,495.49 L2239.47,496.61 L2241.15,497.73 L2242.85,498.83 L2244.55,499.93 L2246.26,501.02 L2247.98,502.09 L2249.70,503.16 L2251.42,504.23 L2253.15,505.29 L2254.88,506.35 L2256.60,507.41 L2258.32,508.47 L2260.03,509.54 L2261.74,510.61 L2263.44,511.70 L2265.12,512.79 L2266.79,513.90 L2268.45,515.02 L2270.08,516.17 L2271.70,517.33 L2273.29,518.51 L2274.87,519.72 L2276.41,520.95 L2277.93,522.21 L2279.42,523.51 L2280.88,524.83 L2282.30,526.19 L2283.70,527.58 L2285.06,529.00 L2286.39,530.45 L2287.70,531.94 L2288.97,533.45 L2290.21,534.99 L2291.43,536.56 L2292.61,538.16 L2293.77,539.78 L2294.91,541.43 L2296.01,543.10 L2297.09,544.80 L2298.14,546.53 L2299.17,548.27 L2300.17,550.04 L2301.15,551.83 L2302.12,553.63 L2303.06,555.45 L2304.00,557.28 L2304.92,559.12 L2305.83,560.97 L2306.73,562.83 L2307.63,564.69 L2308.52,566.55 L2309.41,568.42 L2310.31,570.28 L2311.21,572.14 L2312.11,573.99 L2313.02,575.84 L2313.94,577.67 L2314.88,579.49 L2315.82,581.30 L2316.79,583.09 L2317.77,584.87 L2318.78,586.62 L2319.80,588.35 L2320.86,590.06 L2321.94,591.74 L2323.05,593.39 L2324.19,595.01 L2325.37,596.60 L2326.59,598.15 L2327.84,599.66 L2329.13,601.14 L2330.47,602.58 L2331.84,603.98 L2333.24,605.34 L2334.68,606.66 L2336.16,607.95 L2337.67,609.19 L2339.22,610.39 L2340.79,611.56 L2342.40,612.68 L2344.04,613.77 L2345.70,614.81 L2347.40,615.82 L2349.12,616.78 L2350.87,617.71 L2352.64,618.59 L2354.44,619.43 L2356.26,620.23 L2358.10,620.99 L2359.97,621.71 L2361.85,622.38 L2363.76,623.02 L2365.68,623.61 L2367.62,624.16 L2369.58,624.67 L2371.55,625.13 L2373.54,625.56 L2375.54,625.95 L2377.55,626.30 L2379.57,626.62 L2381.61,626.90 L2383.65,627.15 L2385.69,627.38 L2387.74,627.58 L2389.80,627.75 L2391.85,627.90 L2393.91,628.03 L2395.97,628.13 L2398.02,628.22 L2400.07,628.30 L2402.12,628.36 L2404.17,628.41 L2406.20,628.44 L2408.23,628.47 L2410.25,628.49 L2412.26,628.51 L2414.25,628.52 L2416.23,628.53 L2418.20,628.54 L2420.15,628.56 L2422.08,628.57 L2424.00,628.60" fill="none" stroke="#f00" stroke-width="7.8" stroke-linecap="round" stroke-linejoin="round"/>
</g>
<path d="M1400.5,39.0 V877.0 M2423.0,39.0 V877.0" stroke="#000" stroke-width="4.8" fill="none"/>
<path d="M1398.5,865.0 H1903.5 M1921.0,865.0 H2425.0 M1398.5,41.0 H1903.5 M1921.0,41.0 H2425.0" stroke="#000" stroke-width="4" fill="none"/>
<path d="M1491.8,865.0 V877.0 M1491.8,41.0 V52.0 M1583.1,865.0 V877.0 M1583.1,41.0 V52.0 M1674.4,865.0 V877.0 M1674.4,41.0 V52.0 M1765.7,865.0 V877.0 M1765.7,41.0 V52.0 M1857.0,865.0 V877.0 M1857.0,41.0 V52.0 M1966.6,865.0 V877.0 M1966.6,41.0 V52.0 M2057.9,865.0 V877.0 M2057.9,41.0 V52.0 M2149.2,865.0 V877.0 M2149.2,41.0 V52.0 M2240.4,865.0 V877.0 M2240.4,41.0 V52.0 M2331.7,865.0 V877.0 M2331.7,41.0 V52.0" stroke="#000" stroke-width="4.8" fill="none"/>
<path d="M1446.1,865.0 V871.0 M1446.1,41.0 V47.0 M1537.4,865.0 V871.0 M1537.4,41.0 V47.0 M1628.8,865.0 V871.0 M1628.8,41.0 V47.0 M1720.0,865.0 V871.0 M1720.0,41.0 V47.0 M1811.3,865.0 V871.0 M1811.3,41.0 V47.0 M2012.2,865.0 V871.0 M2012.2,41.0 V47.0 M2103.5,865.0 V871.0 M2103.5,41.0 V47.0 M2194.8,865.0 V871.0 M2194.8,41.0 V47.0 M2286.1,865.0 V871.0 M2286.1,41.0 V47.0 M2377.4,865.0 V871.0 M2377.4,41.0 V47.0" stroke="#000" stroke-width="4" fill="none"/>
<path d="M1388.5,41.0 H1400.5 M2423.0,41.0 H2411.0 M1388.5,315.7 H1400.5 M2423.0,315.7 H2411.0 M1388.5,590.3 H1400.5 M2423.0,590.3 H2411.0 M1388.5,865.0 H1400.5 M2423.0,865.0 H2411.0" stroke="#000" stroke-width="4.2" fill="none"/>
<path d="M1393.5,178.3 H1400.5 M2423.0,178.3 H2417.0 M1393.5,453.0 H1400.5 M2423.0,453.0 H2417.0 M1393.5,727.7 H1400.5 M2423.0,727.7 H2417.0" stroke="#000" stroke-width="4" fill="none"/>
<path d="M1883.0,876.4 L1923.0,853.6 M1901.0,876.4 L1940.5,853.6 M1883.0,52.4 L1923.0,29.6 M1901.0,52.4 L1940.5,29.6" stroke="#000" stroke-width="4.2" fill="none" stroke-linecap="round"/>
<rect x="507.0" y="63.0" width="319.7" height="142.0" fill="#fff" stroke="#000" stroke-width="2.1"/>
<path d="M514.3,99.0 H619.5" stroke="#000" stroke-width="7.5" stroke-linecap="round"/>
<path d="M514.3,167.1 H619.5" stroke="#f00" stroke-width="7.8" stroke-linecap="round"/>
<text transform="translate(630.61,119.10) scale(0.9692,1)" font-size="45.21" font-weight="bold" >Simulated</text>
<text transform="translate(629.90,186.46) scale(1.0105,1)" font-size="44.29" font-weight="bold" >Measured</text>
<rect x="1761.2" y="39.2" width="291.6" height="140.6" fill="#fff" stroke="#000" stroke-width="2.1"/>
<path d="M1767.2,80.7 H1839.6" stroke="#000" stroke-width="7.5" stroke-linecap="round"/>
<path d="M1767.2,149.6 H1839.6" stroke="#f00" stroke-width="7.8" stroke-linecap="round"/>
<text transform="translate(1850.72,94.19) scale(1.0064,1)" font-size="45.35" font-weight="bold" >Simulated</text>
<text transform="translate(1850.08,163.25) scale(1.0127,1)" font-size="45.29" font-weight="bold" >Measured</text>
<text transform="translate(179.00,923.60) scale(0.9740,1)" font-size="46.40" font-weight="bold" text-anchor="middle">19.6</text>
<text transform="translate(268.50,923.60) scale(0.9740,1)" font-size="46.40" font-weight="bold" text-anchor="middle">20.0</text>
<text transform="translate(358.00,923.60) scale(0.9740,1)" font-size="46.40" font-weight="bold" text-anchor="middle">20.4</text>
<text transform="translate(447.50,923.60) scale(0.9740,1)" font-size="46.40" font-weight="bold" text-anchor="middle">20.8</text>
<text transform="translate(537.00,923.60) scale(0.9740,1)" font-size="46.40" font-weight="bold" text-anchor="middle">21.2</text>
<text transform="translate(626.50,923.60) scale(0.9740,1)" font-size="46.40" font-weight="bold" text-anchor="middle">21.6</text>
<text transform="translate(732.90,923.60) scale(0.9740,1)" font-size="46.40" font-weight="bold" text-anchor="middle">29.2</text>
<text transform="translate(822.32,923.60) scale(0.9740,1)" font-size="46.40" font-weight="bold" text-anchor="middle">29.6</text>
<text transform="translate(911.74,923.60) scale(0.9740,1)" font-size="46.40" font-weight="bold" text-anchor="middle">30.0</text>
<text transform="translate(1001.16,923.60) scale(0.9740,1)" font-size="46.40" font-weight="bold" text-anchor="middle">30.4</text>
<text transform="translate(1090.58,923.60) scale(0.9740,1)" font-size="46.40" font-weight="bold" text-anchor="middle">30.8</text>
<text transform="translate(1180.00,923.60) scale(0.9740,1)" font-size="46.40" font-weight="bold" text-anchor="middle">31.2</text>
<text transform="translate(1400.50,921.40) scale(0.9450,1)" font-size="49.10" font-weight="bold" text-anchor="middle">19.6</text>
<text transform="translate(1491.80,921.40) scale(0.9450,1)" font-size="49.10" font-weight="bold" text-anchor="middle">20.0</text>
<text transform="translate(1583.10,921.40) scale(0.9450,1)" font-size="49.10" font-weight="bold" text-anchor="middle">20.4</text>
<text transform="translate(1674.40,921.40) scale(0.9450,1)" font-size="49.10" font-weight="bold" text-anchor="middle">20.8</text>
<text transform="translate(1765.70,921.40) scale(0.9450,1)" font-size="49.10" font-weight="bold" text-anchor="middle">21.2</text>
<text transform="translate(1857.00,921.40) scale(0.9450,1)" font-size="49.10" font-weight="bold" text-anchor="middle">21.6</text>
<text transform="translate(1966.60,921.40) scale(0.9450,1)" font-size="49.10" font-weight="bold" text-anchor="middle">29.2</text>
<text transform="translate(2057.88,921.40) scale(0.9450,1)" font-size="49.10" font-weight="bold" text-anchor="middle">29.6</text>
<text transform="translate(2149.16,921.40) scale(0.9450,1)" font-size="49.10" font-weight="bold" text-anchor="middle">30.0</text>
<text transform="translate(2240.44,921.40) scale(0.9450,1)" font-size="49.10" font-weight="bold" text-anchor="middle">30.4</text>
<text transform="translate(2331.72,921.40) scale(0.9450,1)" font-size="49.10" font-weight="bold" text-anchor="middle">30.8</text>
<text transform="translate(2423.00,921.40) scale(0.9450,1)" font-size="49.10" font-weight="bold" text-anchor="middle">31.2</text>
<text x="161" y="76.60" font-size="48" font-weight="bold" text-anchor="end">5</text>
<text transform="translate(109.34,78.97) scale(1.108,1.130)" font-size="48" font-weight="bold">−</text>
<text x="161" y="238.00" font-size="48" font-weight="bold" text-anchor="end">10</text>
<text transform="translate(87.34,240.37) scale(1.108,1.130)" font-size="48" font-weight="bold">−</text>
<text x="161" y="399.40" font-size="48" font-weight="bold" text-anchor="end">15</text>
<text transform="translate(87.34,401.77) scale(1.108,1.130)" font-size="48" font-weight="bold">−</text>
<text x="161" y="560.80" font-size="48" font-weight="bold" text-anchor="end">20</text>
<text transform="translate(87.34,563.17) scale(1.108,1.130)" font-size="48" font-weight="bold">−</text>
<text x="161" y="722.20" font-size="48" font-weight="bold" text-anchor="end">25</text>
<text transform="translate(87.34,724.57) scale(1.108,1.130)" font-size="48" font-weight="bold">−</text>
<text x="161" y="883.60" font-size="48" font-weight="bold" text-anchor="end">30</text>
<text transform="translate(87.34,885.97) scale(1.108,1.130)" font-size="48" font-weight="bold">−</text>
<text x="1382" y="55.60" font-size="48" font-weight="bold" text-anchor="end">15</text>
<text x="1382" y="330.27" font-size="48" font-weight="bold" text-anchor="end">10</text>
<text x="1382" y="604.93" font-size="48" font-weight="bold" text-anchor="end">5</text>
<text x="1382" y="879.60" font-size="48" font-weight="bold" text-anchor="end">0</text>
<text transform="translate(488.94,1003.84) scale(0.9815,1)" font-size="54.11" font-weight="bold" >Frequency(GHz)</text>
<text transform="translate(1705.69,1003.57) scale(1.0148,1)" font-size="54.44" font-weight="bold" >Frequency (GHz)</text>
<text transform="translate(71.80,556.71) rotate(-90) scale(1.0170,1)" font-size="53.33" font-weight="bold">S11(dB)</text>
<text transform="translate(1316.46,678.10) rotate(-90) scale(1.0182,1)" font-size="54.00" font-weight="bold">Realized Gain(dBi)</text>
<text transform="translate(579.69,1113.50) scale(0.8964,1)" font-size="86.67" font-weight="normal" >(</text>
<text transform="translate(606.32,1113.96) scale(0.9895,1)" font-size="83.54" font-weight="bold" >a</text>
<text transform="translate(647.78,1113.50) scale(0.8920,1)" font-size="86.67" font-weight="normal" >)</text>
<text transform="translate(1818.92,1113.50) scale(0.8876,1)" font-size="86.67" font-weight="normal" >(</text>
<text transform="translate(1845.02,1114.13) scale(1.0109,1)" font-size="87.29" font-weight="bold" >b</text>
<text transform="translate(1895.89,1113.50) scale(0.8876,1)" font-size="86.67" font-weight="normal" >)</text>
</svg></body></html>
